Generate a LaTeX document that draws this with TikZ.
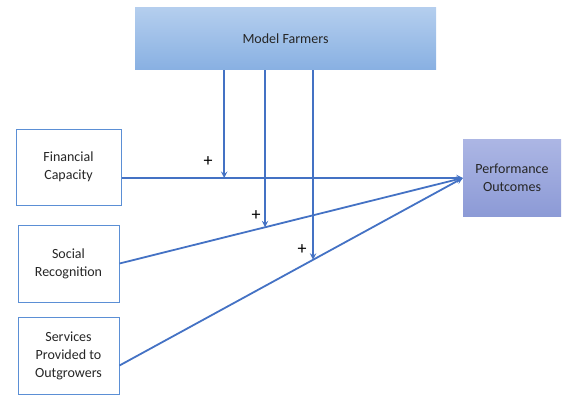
\documentclass[tikz,border=0pt]{standalone}
\usepackage{fontspec}
\setmainfont{Carlito}
\usepackage{tikz}
\usetikzlibrary{calc}

\definecolor{linkblue}{HTML}{4472C4}
\definecolor{edgeblue}{HTML}{5B8FD5}

\begin{document}
\begin{tikzpicture}[x=1pt,y=-1pt,
        every node/.style={font=\fontsize{14}{18}\selectfont, align=center, text=black!85},
        inbox/.style={draw=edgeblue, line width=1pt, fill=white, minimum width=101pt, minimum height=77pt},
        link/.style={draw=linkblue, line width=1.8pt},
        plus/.style={font=\fontsize{18}{18}\selectfont, text=black},
        >=stealth]
        \useasboundingbox (0,0) rectangle (565,396);
        \node[top color={rgb,255:red,180;green,206;blue,238}, bottom color={rgb,255:red,136;green,176;blue,226},
              minimum width=301pt, minimum height=62pt] (model) at (285.5,39) {Model Farmers};
        \node[top color={rgb,255:red,172;green,182;blue,228}, bottom color={rgb,255:red,140;green,154;blue,214},
              minimum width=98pt, minimum height=77pt] (perf) at (512,178) {Performance\\Outcomes};
        \node[inbox, minimum width=105pt, minimum height=76pt] (fin) at (68.5,167) {Financial\\Capacity};
        \node[inbox] (soc) at (68.5,263.5) {Social\\Recognition};
        \node[inbox] (serv) at (68.5,355.5) {Services\\Provided to\\Outgrowers};
        % paths into the outcome box
        \coordinate (finout) at (fin.east |- perf.west);
        \coordinate (servout) at ([yshift=-10pt]serv.east);
        \draw[link,->] (finout) -- (perf.west);
        \draw[link,->] (soc.east) -- (perf.west);
        \draw[link,->] (servout) -- (perf.west);
        % moderating arrows
        \coordinate (p1) at ($(finout)!0.301!(perf.west)$);
        \coordinate (p2) at ($(soc.east)!0.424!(perf.west)$);
        \coordinate (p3) at ($(servout)!0.564!(perf.west)$);
        \draw[link,->] (p1 |- model.south) -- (p1);
        \draw[link,->] (p2 |- model.south) -- (p2);
        \draw[link,->] (p3 |- model.south) -- (p3);
        \node[plus] (plus1) at (208,162) {+};
        \node[plus] (plus2) at (256,216) {+};
        \node[plus] (plus3) at (302,250) {+};
    \end{tikzpicture}
\end{document}
